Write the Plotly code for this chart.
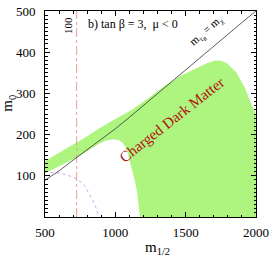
import plotly.graph_objects as go

# Green "charged dark matter"/allowed region boundary (m_1/2, m_0)
green_bottom_x = [500, 605, 700, 744, 800, 850, 884, 940, 990, 1030, 1058, 1080, 1105, 1125, 1140, 1155, 1163, 1175]
green_bottom_y = [106, 123, 140, 148, 160, 170, 178, 186, 189, 186, 178, 165, 134, 105, 87, 60, 40, 0]
green_top_x = [500, 605, 700, 800, 884, 1000, 1116, 1233, 1349, 1420, 1465, 1582, 1650, 1709, 1750, 1791, 1861, 1919, 1965, 2000]
green_top_y = [136, 158, 176, 196, 215, 238, 260, 288, 318, 333, 343, 362, 373, 380, 379, 374, 351, 315, 276, 248]

# m_stau = m_chi line
line_x = [500, 600, 700, 800, 900, 1000, 1100, 1200, 1300, 1400, 1500, 1600, 1700, 1800, 1900, 2000]
line_y = [89, 112, 138, 163, 188, 214, 242, 271, 299, 327, 356, 385, 414, 443, 472, 500]

# purple dotted contour
dot_x = [540, 605, 680, 733, 780, 814, 840, 861, 875, 884]
dot_y = [108, 107, 99, 91, 77, 58, 40, 24, 8, 0]

# red dash-dot (chargino/Higgs 100) line
red_x = [725, 725]
red_y = [0, 500]

poly_x = green_bottom_x + [2000] + green_top_x[::-1]
poly_y = green_bottom_y + [0] + green_top_y[::-1]

fig = go.Figure()
fig.add_trace(go.Scatter(x=poly_x, y=poly_y, fill="toself", mode="lines",
                         line=dict(width=0, color="rgba(0,0,0,0)"),
                         fillcolor="#aef57f", hoverinfo="skip"))
fig.add_trace(go.Scatter(x=dot_x, y=dot_y, mode="lines",
                         line=dict(color="#d4a0f4", width=1, dash="dot")))
fig.add_trace(go.Scatter(x=red_x, y=red_y, mode="lines",
                         line=dict(color="#f29a9a", width=1, dash="dashdot")))
fig.add_trace(go.Scatter(x=line_x, y=line_y, mode="lines",
                         line=dict(color="#333333", width=0.8)))

serif = "Liberation Serif, Times New Roman, serif"
fig.update_layout(
    width=273, height=256,
    margin=dict(l=45, r=13, t=4, b=39),
    paper_bgcolor="white", plot_bgcolor="white",
    showlegend=False,
    font=dict(family=serif, size=13, color="black"),
)
fig.update_xaxes(range=[500, 2000], tickvals=[500, 1000, 1500, 2000],
                 ticks="inside", ticklen=5, tickwidth=1, tickcolor="black",
                 showline=True, linecolor="black", linewidth=1, mirror="ticks",
                 showgrid=False, zeroline=False,
                 minor=dict(ticks="inside", dtick=100, ticklen=2.5, tickcolor="black", showgrid=False),
                 tickfont=dict(family=serif, size=13), ticklabelstandoff=3,
                 ticklabeloverflow="allow")
fig.update_yaxes(range=[0, 500], tickvals=[100, 200, 300, 400, 500],
                 ticks="inside", ticklen=5, tickwidth=1, tickcolor="black",
                 showline=True, linecolor="black", linewidth=1, mirror="ticks",
                 showgrid=False, zeroline=False,
                 minor=dict(ticks="inside", dtick=10, ticklen=2.5, tickcolor="black", showgrid=False),
                 tickfont=dict(family=serif, size=13), ticklabelstandoff=6,
                 ticklabeloverflow="allow")

ann = [
    dict(x=790, y=469, xref="x", yref="y", text="b) tan β = 3,  μ < 0", showarrow=False,
         xanchor="left", yanchor="middle", font=dict(family=serif, size=12)),
    dict(x=667, y=465, xref="x", yref="y", text="100", showarrow=False, textangle=-90,
         font=dict(family=serif, size=11)),
    dict(x=1400, y=235, xref="x", yref="y", text="Charged Dark Matter", showarrow=False,
         textangle=-38, font=dict(family=serif, size=15, color="#b01010")),
    dict(x=1655, y=452, xref="x", yref="y", text="m<sub>τ<sub>R</sub></sub> = m<sub>χ</sub>",
         showarrow=False, textangle=-41, font=dict(family=serif, size=11, color="black")),
    dict(x=0.535, y=-0.15, xref="paper", yref="paper", text="m<sub>1/2</sub>", showarrow=False,
         xanchor="center", yanchor="middle", font=dict(family=serif, size=15)),
    dict(x=-0.175, y=0.55, xref="paper", yref="paper", text="m<sub>0</sub>", showarrow=False,
         textangle=-90, xanchor="center", yanchor="middle", font=dict(family=serif, size=15)),
]
fig.update_layout(annotations=ann)
fig.write_html("out.html", config={"displayModeBar": False},
               post_script="document.body.style.margin='0';document.body.style.overflow='hidden';")
